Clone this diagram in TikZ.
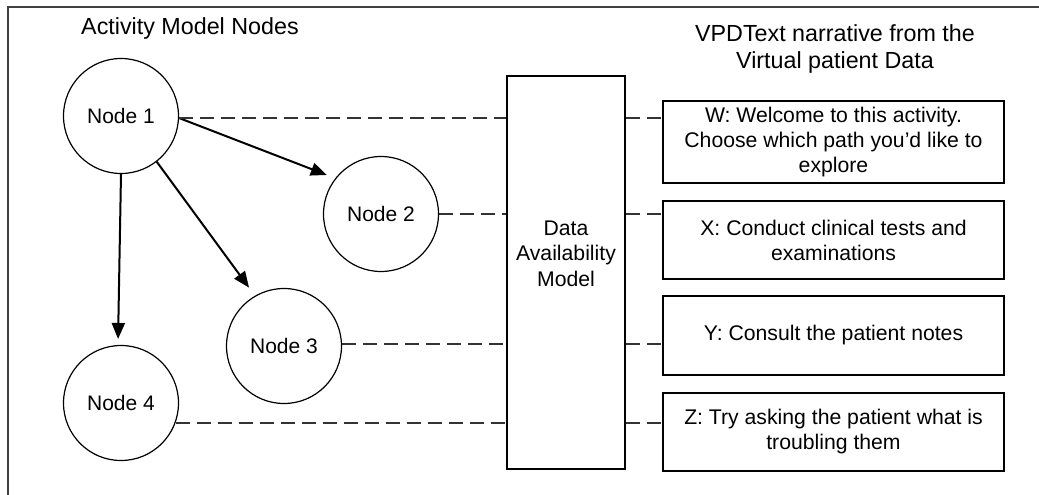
\documentclass[tikz,border=0pt]{standalone}
\usepackage{fontspec}
\setmainfont{Liberation Sans}
\usetikzlibrary{arrows.meta}
\begin{document}
\begin{tikzpicture}[x=1pt,y=-1pt,
  circ/.style={circle, draw, line width=1.2pt, minimum size=115pt, inner sep=0pt, font=\fontsize{21}{25}\selectfont},
  box/.style={rectangle, draw, line width=1.5pt, minimum width=341pt, align=center, inner sep=0pt, font=\fontsize{21.2}{25}\selectfont},
  dline/.style={dash pattern=on 14pt off 7pt, line width=1.5pt, black!80},
  arr/.style={-{Triangle[length=16pt,width=13pt]}, line width=2pt},
  title/.style={align=center, inner sep=0pt, font=\fontsize{23.3}{27}\selectfont}
]
\useasboundingbox (0,0) rectangle (1039,495);
\fill[white] (0,0) rectangle (1039,495);
\draw[line width=2pt, black!75] (8,7) rectangle (1060,515);

\node[title] (t1) at (190,28) {Activity Model Nodes};
\node[title] (t2) at (835,48.5) {VPDText narrative from the\\Virtual patient Data};

\node[circ] (n1) at (121,116) {Node 1};
\node[circ] (n2) at (381,214) {Node 2};
\node[circ] (n3) at (284,346) {Node 3};
\node[circ] (n4) at (121,403) {Node 4};

\node[rectangle, draw, line width=1.5pt, minimum width=118pt, minimum height=393pt,
  label={[align=center, inner sep=0pt, yshift=19pt, font=\fontsize{21.2}{25.5}\selectfont]center:Data\\Availability\\Model}] (dam) at (566,272.5) {};

\node[box, minimum height=82pt] (w) at (833.5,142) {W: Welcome to this activity.\\Choose which path you’d like to\\explore};
\node[box, minimum height=78pt] (x) at (833.5,240) {X: Conduct clinical tests and\\examinations};
\node[box, minimum height=79pt] (y) at (833.5,335.5) {Y: Consult the patient notes};
\node[box, minimum height=78pt] (z) at (833.5,432) {Z: Try asking the patient what is\\troubling them};

\draw[arr, shorten >=9pt] (n1.-2) -- (n2.142);
\draw[arr, shorten >=10pt] (n1.-52) -- (n3.120);
\draw[arr, shorten >=6pt] (n1.south) -- (n4.93);

\draw[dline] (n1.-2) -- (n1.-2 -| dam.west);
\draw[dline] (n2.east) -- (n2.east -| dam.west);
\draw[dline] (n3.2) -- (n3.2 -| dam.west);
\draw[dline] (n4.-20) -- (n4.-20 -| dam.west);

\draw[dline] (dam.east |- n1.-2) -- (w.west |- n1.-2);
\draw[dline] (dam.east |- n2.east) -- (x.west |- n2.east);
\draw[dline] (dam.east |- n3.2) -- (y.west |- n3.2);
\draw[dline] (dam.east |- n4.-20) -- (z.west |- n4.-20);
\end{tikzpicture}
\end{document}
